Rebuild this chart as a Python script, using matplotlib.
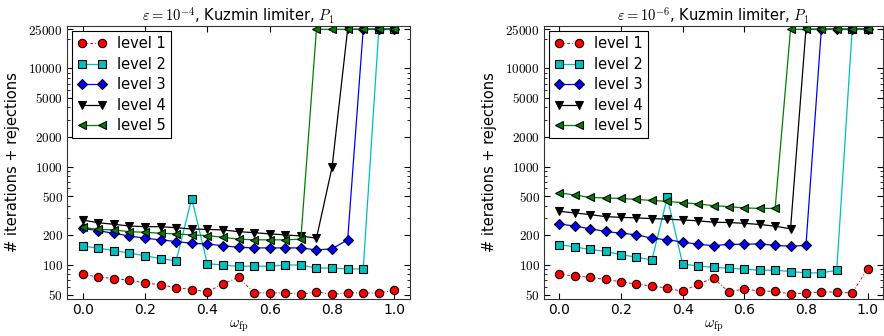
import numpy as np
import matplotlib
matplotlib.use("Agg")
import matplotlib.pyplot as plt
from matplotlib.ticker import FixedLocator, FixedFormatter, LogLocator, NullFormatter

plt.rcParams["mathtext.fontset"] = "cm"
plt.rcParams["font.family"] = ["DejaVu Sans"]
plt.rcParams["font.size"] = 10

omega = [0.0, 0.05, 0.1, 0.15, 0.2, 0.25, 0.3, 0.35, 0.4, 0.45, 0.5,
         0.55, 0.6, 0.65, 0.7, 0.75, 0.8, 0.85, 0.9, 0.95, 1.0]

# epsilon = 1e-4 (left panel)
eps4_level1 = [80, 75.5, 72.6, 69.8, 65.6, 62.6, 58.9, 56.2, 53.2, 64.1, 74.8,
               52, 52, 52, 50.2, 53.2, 50.2, 52, 52, 51.6, 55.3]
eps4_level2 = [156, 148, 140, 132, 124, 116, 110, 474, 103, 99.8, 96.6,
               97.5, 96.6, 99.8, 99.8, 93, 93, 91, 91, 25000, 25000]
eps4_level3 = [236, 223, 210, 197, 187, 180, 173, 166, 163, 157, 151,
               149, 149, 149, 149, 142, 146, 180, 25000, 25000, 25000]
eps4_level4 = [286, 269, 259, 249, 245, 245, 239, 232, 230, 227, 218,
               213, 207, 202, 197, 187, 984, 25000, 25000, 25000, 25000]
eps4_level5 = [241, 230, 227, 218, 215, 210, 207, 202, 199, 191, 183,
               180, 180, 180, 183, 25000, 25000, 25000, 25000, 25000, 25000]

# epsilon = 1e-6 (right panel)
eps6_level1 = [80, 77.4, 74.6, 71.2, 67.3, 63.8, 61, 58.1, 53.8, 63.8, 73.4,
               53, 57.2, 54.1, 53.8, 50.6, 51.8, 53, 53, 52, 91]
eps6_level2 = [161, 152, 144, 137, 127, 120, 112, 486, 102, 97.7, 94.2,
               92.7, 90.5, 88.4, 88.4, 85.7, 83, 83, 88.4, 25000, 25000]
eps6_level3 = [262, 248, 233, 219, 210, 203, 187, 180, 171, 162, 157,
               162, 162, 164, 158, 155, 158, 25000, 25000, 25000, 25000]
eps6_level4 = [351, 338, 325, 310, 305, 301, 296, 292, 287, 281, 272,
               270, 265, 258, 248, 233, 25000, 25000, 25000, 25000, 25000]
eps6_level5 = [542, 514, 486, 480, 475, 464, 453, 443, 430, 417, 401,
               392, 380, 376, 376, 25000, 25000, 25000, 25000, 25000, 25000]

level_labels = ["level 1", "level 2", "level 3", "level 4", "level 5"]
yticks = [50, 100, 200, 500, 1000, 2000, 5000, 10000, 25000]
xticks = [0.0, 0.2, 0.4, 0.6, 0.8, 1.0]

styles = [
    dict(color="r", marker="o", linestyle=(0, (3, 2, 1, 2)), lw=0.7, ms=6),
    dict(color=(0, 0.75, 0.75), marker="s", linestyle="-", lw=0.9, ms=5.5),
    dict(color="b", marker="D", linestyle="-", lw=0.9, ms=5.5),
    dict(color="k", marker="v", linestyle="-", lw=0.9, ms=6),
    dict(color=(0, 0.5, 0), marker="<", linestyle="-", lw=0.9, ms=6),
]

panels = [
    (r"$\varepsilon=10^{-4}$, Kuzmin limiter, $P_1$",
     [eps4_level1, eps4_level2, eps4_level3, eps4_level4, eps4_level5]),
    (r"$\varepsilon=10^{-6}$, Kuzmin limiter, $P_1$",
     [eps6_level1, eps6_level2, eps6_level3, eps6_level4, eps6_level5]),
]

fig = plt.figure(figsize=(8.84, 3.36), dpi=100)
W, H = 884.0, 336.0
boxes = [(67, 410), (544, 883)]
top_px, bot_px = 26, 299

for (x0, x1), (title, series) in zip(boxes, panels):
    ax = fig.add_axes([x0 / W, 1 - bot_px / H, (x1 - x0) / W, (bot_px - top_px) / H])
    for vals, lab, st in zip(series, level_labels, styles):
        ax.plot(omega, vals, label=lab, color=st["color"], marker=st["marker"],
                linestyle=st["linestyle"], lw=st["lw"], ms=st["ms"],
                markeredgecolor="k", markeredgewidth=0.8)
    ax.set_yscale("log")
    ax.set_xlim(-0.05, 1.05)
    ax.set_ylim(45, 27000)
    ax.yaxis.set_major_locator(FixedLocator(yticks))
    ax.yaxis.set_major_formatter(FixedFormatter([r"$%d$" % v for v in yticks]))
    ax.yaxis.set_minor_locator(LogLocator(base=10, subs=np.arange(2, 10)))
    ax.yaxis.set_minor_formatter(NullFormatter())
    ax.set_xticks(xticks)
    ax.set_xticklabels(["%.1f" % v for v in xticks])
    ax.tick_params(which="both", direction="in", top=True, right=True)
    ax.tick_params(which="major", length=4, width=0.8)
    ax.tick_params(which="minor", length=2, width=0.6)
    ax.tick_params(axis="y", labelsize=9.5, pad=3)
    ax.tick_params(axis="x", labelsize=10, pad=3)
    ax.set_title(title, fontsize=10.5, pad=3)
    ax.set_xlabel(r"$\omega_{\rm fp}$", fontsize=10.5, labelpad=1)
    ax.set_ylabel("# iterations + rejections", fontsize=10.5, labelpad=6)
    for s in ax.spines.values():
        s.set_color("#333333")
    leg = ax.legend(loc="upper left", numpoints=2, fancybox=False,
                    edgecolor="k", framealpha=1, fontsize=10.5,
                    borderaxespad=0.35, handlelength=2.0, labelspacing=0.38,
                    borderpad=0.35, handletextpad=0.7)
    leg.get_frame().set_linewidth(0.8)

fig.savefig("out.png", dpi=100)
